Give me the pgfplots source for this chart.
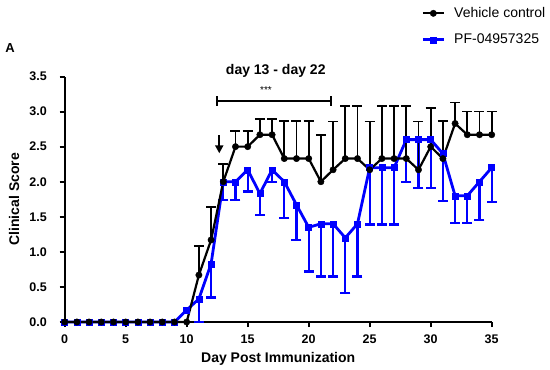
\documentclass[border=0pt]{standalone}
\usepackage{fontspec}
\setmainfont{Liberation Sans}
\usepackage{pgfplots}
\pgfplotsset{compat=1.18}
\usepackage{pgfplotstable}
\usetikzlibrary{arrows.meta}
\definecolor{pfblue}{RGB}{0,0,255}

\pgfplotstableread{
day mean err
0 0 0
1 0 0
2 0 0
3 0 0
4 0 0
5 0 0
6 0 0
7 0 0
8 0 0
9 0 0
10 0 0
11 0.67 0.41
12 1.17 0.47
13 2.00 0.25
14 2.50 0.22
15 2.50 0.22
16 2.67 0.22
17 2.67 0.22
18 2.33 0.54
19 2.33 0.54
20 2.33 0.54
21 2.00 0.67
22 2.17 0.69
23 2.33 0.75
24 2.33 0.75
25 2.17 0.69
26 2.33 0.75
27 2.33 0.75
28 2.33 0.75
29 2.17 0.69
30 2.50 0.55
31 2.33 0.54
32 2.83 0.30
33 2.67 0.33
34 2.67 0.33
35 2.67 0.33
}\vehicle

\pgfplotstableread{
day mean err
0 0 0
1 0 0
2 0 0
3 0 0
4 0 0
5 0 0
6 0 0
7 0 0
8 0 0
9 0 0
10 0.17 0
11 0.33 0.33
12 0.83 0.48
13 2.00 0.26
14 2.00 0.26
15 2.17 0.31
16 1.83 0.31
17 2.17 0.17
18 2.00 0.52
19 1.67 0.50
20 1.35 0.63
21 1.40 0.75
22 1.40 0.75
23 1.20 0.79
24 1.40 0.75
25 2.20 0.81
26 2.20 0.81
27 2.20 0.81
28 2.60 0.60
29 2.60 0.69
30 2.60 0.69
31 2.40 0.68
32 1.80 0.39
33 1.80 0.39
34 2.00 0.55
35 2.20 0.49
}\pf

\begin{document}
\begin{tikzpicture}
\path[use as bounding box] (-64.7pt,-48pt) rectangle (485.3pt,322pt);
\begin{axis}[
  at={(0pt,0pt)}, anchor=south west,
  scale only axis, width=427pt, height=245.5pt,
  xmin=0, xmax=35, ymin=0, ymax=3.5,
  axis x line=bottom, axis y line=left,
  axis line style={line width=2pt, -},
  xtick={0,5,...,35}, ytick={0,0.5,...,3.5},
  minor tick num=0,
  tick align=outside, major tick length=5pt,
  tick style={line width=2pt, black},
  /pgf/number format/assume math mode=true,
  yticklabel={\pgfmathprintnumber[fixed,fixed zerofill,precision=1]{\tick}},
  tick label style={font=\fontsize{12.5}{14}\selectfont\bfseries},
  xticklabel style={anchor=center, yshift=-12pt},
  yticklabel style={anchor=east, inner sep=0pt, xshift=-12.7pt},
  xlabel={Day Post Immunization},
  ylabel={Clinical Score},
  label style={font=\fontsize{14}{16}\selectfont\bfseries},
  xlabel style={at={(axis description cs:0.5,-0.152)}, anchor=center},
  ylabel style={at={(axis description cs:-0.1187,0.5)}, anchor=center},
  clip=false,
  reverse legend,
  legend style={at={(axis description cs:0.835,1.29)}, anchor=north west,
    draw=none, fill=none, font=\fontsize{14}{16}\selectfont,
    row sep=11pt, inner sep=0pt, nodes={inner sep=2pt}},
  legend cell align=left,
  legend image code/.code={\draw[#1, mark repeat=2, mark phase=2] plot coordinates {(0pt,0pt) (10.5pt,0pt) (21pt,0pt)}; \path (28pt,0pt);},
]
% PF error bars (downward)
\addplot[draw=none, mark=none, forget plot, skip coords between index={0}{11},
  error bars/.cd, y dir=minus, y explicit,
  error bar style={draw=pfblue, line width=2.2pt, solid},
  error mark options={draw=pfblue, rotate=90, mark size=5pt, line width=2.2pt}]
  table[x=day, y=mean, y error=err] {\pf};
% PF line
\addplot[pfblue, line width=2.8pt, mark=square*, mark size=3pt, mark options={line width=0.4pt, solid}]
  table[x=day, y=mean] {\pf};
\addlegendentry{PF-04957325}
% Vehicle error bars (upward)
\addplot[draw=none, mark=none, forget plot, skip coords between index={0}{11},
  error bars/.cd, y dir=plus, y explicit,
  error bar style={draw=black, line width=1.7pt, solid},
  error mark options={draw=black, rotate=90, mark size=5pt, line width=1.7pt}]
  table[x=day, y=mean, y error=err] {\vehicle};
% Vehicle line
\addplot[black, line width=2.2pt, mark=*, mark size=3.2pt, mark options={line width=0.4pt, solid}]
  table[x=day, y=mean] {\vehicle};
\addlegendentry{Vehicle control}

% annotations
\node[font=\fontsize{14}{16}\selectfont\bfseries] at (axis cs:17.3,3.578) {day 13 - day 22};
\node[font=\fontsize{10}{12}\selectfont] at (axis cs:16.5,3.30) {***};
\draw[line width=1.8pt] (axis cs:12.51,3.155) -- (axis cs:21.83,3.155);
\draw[line width=1.8pt] (axis cs:12.51,3.085) -- (axis cs:12.51,3.225);
\draw[line width=1.8pt] (axis cs:21.83,3.085) -- (axis cs:21.83,3.225);
\draw[line width=2pt, -{Triangle[length=8pt,width=8pt]}] (axis cs:12.67,2.666) -- (axis cs:12.67,2.405);
\end{axis}
\node[font=\fontsize{13}{15}\selectfont\bfseries] at (-54.7pt,274pt) {A};
\end{tikzpicture}
\end{document}
